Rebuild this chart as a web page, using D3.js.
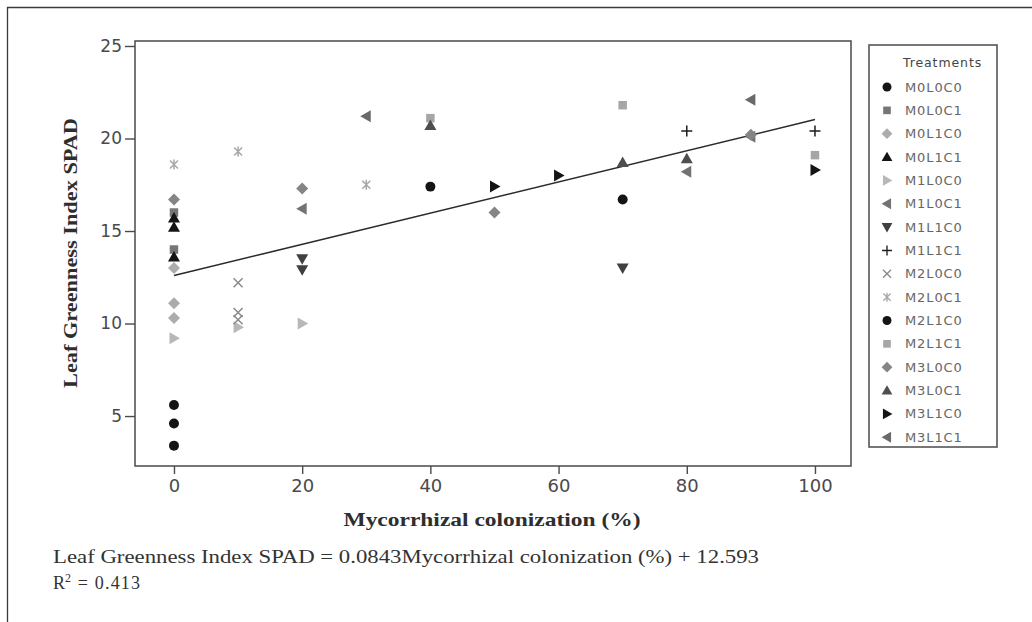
<!DOCTYPE html>
<html>
<head>
<meta charset="utf-8">
<script src="https://cdn.jsdelivr.net/npm/d3@7"></script>
<style>
  html, body { margin: 0; padding: 0; background: #fff; }
  svg { display: block; }
</style>
</head>
<body>
<div id="chart"></div>
<script>
// Treatments (mycorrhiza M, light L, compost C) and their measured points
const treatments = ["M0L0C0","M0L0C1","M0L1C0","M0L1C1","M1L0C0","M1L0C1","M1L1C0","M1L1C1",
                    "M2L0C0","M2L0C1","M2L1C0","M2L1C1","M3L0C0","M3L0C1","M3L1C0","M3L1C1"];

// Mycorrhizal colonization (%) per treatment
const colonization = [
  [0, 0, 0],
  [0, 0],
  [0, 0, 0],
  [0, 0, 0],
  [0, 10, 20],
  [20, 80, 90],
  [20, 20, 70],
  [80, 100],
  [10, 10, 10],
  [0, 10, 30],
  [40, 70],
  [40, 70, 100],
  [0, 20, 50, 90],
  [40, 70, 80],
  [50, 60, 100],
  [30, 90]
];

// Leaf greenness index (SPAD) per treatment
const spad = [
  [5.6, 4.6, 3.4],
  [16.0, 14.0],
  [13.0, 11.1, 10.3],
  [15.7, 15.2, 13.6],
  [9.2, 9.8, 10.0],
  [16.2, 18.2, 20.1],
  [13.5, 12.9, 13.0],
  [20.4, 20.4],
  [12.2, 10.6, 10.2],
  [18.6, 19.3, 17.5],
  [17.4, 16.7],
  [21.1, 21.8, 19.1],
  [16.7, 17.3, 16.0, 20.2],
  [20.7, 18.7, 18.9],
  [17.4, 18.0, 18.3],
  [21.2, 22.1]
];

const xTicks = [0, 20, 40, 60, 80, 100];
const yTicks = [5, 10, 15, 20, 25];

// Fitted regression
const slope = 0.0843;
const intercept = 12.593;
const rSquared = 0.413;

// Marker style per treatment: [shape, fill]
const markerShape = ["circle","square","diamond","up","right","left","down","plus",
                     "times","asterisk","circle","square","diamond","up","right","left"];
const markerColor = ["#141414","#767676","#acacac","#141414","#b8b8b8","#737373","#404040","#1e1e1e",
                     "#8a8a8a","#a8a8a8","#141414","#a6a6a6","#858585","#4e4e4e","#141414","#6a6a6a"];

const W = 1032, H = 622;
const plot = { left: 135, right: 851, top: 41, bottom: 466 };

const svg = d3.select("#chart").append("svg")
  .attr("width", W).attr("height", H);

// Figure border (left and top)
svg.append("path")
  .attr("d", `M7.5,${H} L7.5,7.5 L${W},7.5`)
  .attr("fill", "none").attr("stroke", "#3a3a3a").attr("stroke-width", 1.3);

const x = d3.scaleLinear().domain([-6.08, 105.62]).range([plot.left, plot.right]);
const y = d3.scaleLinear().domain([2.3, 25.27]).range([plot.bottom, plot.top]);

// Marker path builders (centered at 0,0)
function markerPath(shape) {
  switch (shape) {
    case "circle": return d3.symbol(d3.symbolCircle, 78)();
    case "square": return d3.symbol(d3.symbolSquare, 72)();
    case "diamond": return `M0,-6L6,0L0,6L-6,0Z`;
    case "up": return `M0,-6L6,4.5L-6,4.5Z`;
    case "down": return `M0,6L6,-4.5L-6,-4.5Z`;
    case "right": return `M6,0L-4.5,-6L-4.5,6Z`;
    case "left": return `M-6,0L4.5,-6L4.5,6Z`;
    case "plus": return `M0,-5.5V5.5M-5.5,0H5.5`;
    case "times": return `M-4.5,-4.5L4.5,4.5M-4.5,4.5L4.5,-4.5`;
    case "asterisk": return `M-4,-4L4,4M-4,4L4,-4M0,-5V5`;
  }
}
const isStroke = s => s === "plus" || s === "times" || s === "asterisk";

function drawMarker(sel, i) {
  const shape = markerShape[i];
  sel.attr("d", markerPath(shape));
  if (isStroke(shape)) {
    sel.attr("fill", "none").attr("stroke", markerColor[i]).attr("stroke-width", 1.5);
  } else {
    sel.attr("fill", markerColor[i]).attr("stroke", "none");
  }
}

// Plot frame
svg.append("rect")
  .attr("x", plot.left).attr("y", plot.top)
  .attr("width", plot.right - plot.left).attr("height", plot.bottom - plot.top)
  .attr("fill", "none").attr("stroke", "#4a4a4a").attr("stroke-width", 1.5);

// Axes
const xAxis = svg.append("g")
  .attr("transform", `translate(0,${plot.bottom})`)
  .call(d3.axisBottom(x).tickValues(xTicks).tickSize(8).tickPadding(5).tickFormat(d3.format("d")));
const yAxis = svg.append("g")
  .attr("transform", `translate(${plot.left},0)`)
  .call(d3.axisLeft(y).tickValues(yTicks).tickSize(10).tickPadding(3).tickFormat(d3.format("d")));
[xAxis, yAxis].forEach(g => {
  g.select(".domain").remove();
  g.selectAll(".tick line").attr("stroke", "#4a4a4a").attr("stroke-width", 1.4);
  g.selectAll(".tick text")
    .attr("fill", "#4a4a4a")
    .style("font-family", "'DejaVu Sans', sans-serif")
    .style("font-size", "17px");
});
xAxis.selectAll(".tick text").style("font-size", "18px");

// Axis titles
svg.append("text")
  .attr("x", 492).attr("y", 526)
  .attr("text-anchor", "middle")
  .attr("textLength", 297).attr("lengthAdjust", "spacingAndGlyphs")
  .style("font-family", "'Liberation Serif', serif")
  .style("font-weight", "bold").style("font-size", "19px")
  .attr("fill", "#2e2e2e")
  .text("Mycorrhizal colonization (%)");

svg.append("text")
  .attr("transform", "translate(77,253) rotate(-90)")
  .attr("text-anchor", "middle")
  .attr("textLength", 270).attr("lengthAdjust", "spacingAndGlyphs")
  .style("font-family", "'Liberation Serif', serif")
  .style("font-weight", "bold").style("font-size", "19px")
  .attr("fill", "#2e2e2e")
  .text("Leaf Greenness Index SPAD");

// Regression line
svg.append("line")
  .attr("x1", x(0)).attr("y1", y(intercept))
  .attr("x2", x(100)).attr("y2", y(intercept + slope * 100))
  .attr("stroke", "#2a2a2a").attr("stroke-width", 1.5);

// Points
const points = [];
treatments.forEach((t, i) => {
  colonization[i].forEach((c, j) => points.push({ i, c, v: spad[i][j] }));
});
svg.append("g").selectAll("path").data(points).join("path")
  .attr("transform", d => `translate(${x(d.c)},${y(d.v)})`)
  .each(function (d) { drawMarker(d3.select(this), d.i); });

// Legend
const legend = svg.append("g");
legend.append("rect")
  .attr("x", 869).attr("y", 45).attr("width", 128).attr("height", 402)
  .attr("fill", "#fff").attr("stroke", "#555").attr("stroke-width", 1.6);
legend.append("text")
  .attr("x", 903).attr("y", 67)
  .style("font-family", "'DejaVu Sans', sans-serif").style("font-size", "12.5px")
  .style("letter-spacing", "0.9px")
  .attr("fill", "#444").text("Treatments");
const rowH = 23.35;
const items = legend.selectAll("g.item").data(treatments).join("g")
  .attr("class", "item")
  .attr("transform", (d, i) => `translate(0,${87 + i * rowH})`);
items.append("path")
  .attr("transform", "translate(887,0) scale(0.9)")
  .each(function (d, i) { drawMarker(d3.select(this), i); });
items.append("text")
  .attr("x", 905).attr("y", 4.5)
  .style("font-family", "'DejaVu Sans', sans-serif").style("font-size", "13px")
  .style("letter-spacing", "0.9px")
  .attr("fill", "#666").text(d => d);

// Regression equation
const eq = svg.append("g")
  .style("font-family", "'Liberation Serif', serif").style("font-size", "18px")
  .attr("fill", "#333");
eq.append("text")
  .attr("x", 53).attr("y", 563)
  .attr("textLength", 706).attr("lengthAdjust", "spacingAndGlyphs")
  .text(`Leaf Greenness Index SPAD = ${slope}Mycorrhizal colonization (%) + ${intercept}`);
const r2 = eq.append("text").attr("x", 53).attr("y", 589);
r2.append("tspan").text("R");
r2.append("tspan").attr("dy", -7).style("font-size", "12px").text("2");
r2.append("tspan").attr("dy", 7).attr("dx", 1).style("letter-spacing", "1.2px").text(` = ${rSquared}`);
</script>
</body>
</html>
